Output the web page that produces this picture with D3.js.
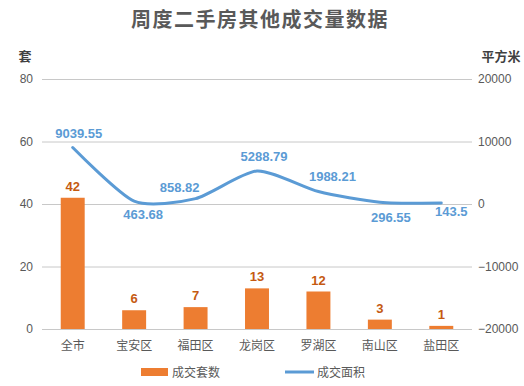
<!DOCTYPE html>
<html><head><meta charset="utf-8">
<script src="https://cdn.jsdelivr.net/npm/d3@7"></script>
<style>body{margin:0;background:#fff;}svg{display:block;font-family:"Noto Sans CJK SC","Microsoft YaHei",sans-serif;}</style>
</head><body>
<svg id="c" width="524" height="386"></svg>
<script>
const categories = ["全市","宝安区","福田区","龙岗区","罗湖区","南山区","盐田区"];
const countValues = [42,6,7,13,12,3,1];
const areaValues = [9039.55,463.68,858.82,5288.79,1988.21,296.55,143.5];
const leftTicks = [0,20,40,60,80];
const rightTicks = [-20000,-10000,0,10000,20000];
// label placement offsets (dx, dy) for area labels
const areaLabelOffsets = [[6,-14],[9,13],[-16,-11],[7,-14],[14,-15],[11,15],[10,8]];

const svg = d3.select("#c");
const m = {l:42, r:472, t:79, b:329};
const x = d3.scaleBand().domain(categories).range([m.l,m.r]).paddingInner(0.61).paddingOuter(0.305);
const xc = d => x(d) + x.bandwidth()/2;
const yL = d3.scaleLinear().domain([0,80]).range([m.b,m.t]);
const yR = d3.scaleLinear().domain([-20000,20000]).range([m.b,m.t]);

svg.append("text").attr("x",260).attr("y",27).attr("text-anchor","middle")
  .attr("font-size",20).attr("font-weight","bold").attr("fill","#595959").attr("letter-spacing",1.5)
  .text("周度二手房其他成交量数据");

// gridlines
svg.append("g").selectAll("line").data(leftTicks).join("line")
  .attr("x1",m.l).attr("x2",m.r).attr("y1",d=>yL(d)+0.5).attr("y2",d=>yL(d)+0.5)
  .attr("stroke","#c8c8c8").attr("stroke-width",1);

// left axis
const la = svg.append("g").attr("transform",`translate(${m.l},0)`)
  .call(d3.axisLeft(yL).tickValues(leftTicks).tickSize(0).tickPadding(9));
la.select(".domain").remove();
la.selectAll("text").attr("font-size",12).attr("fill","#595959").attr("font-family","Liberation Sans, Arial, sans-serif");

// right axis
const ra = svg.append("g").attr("transform",`translate(${m.r},0)`)
  .call(d3.axisRight(yR).tickValues(rightTicks).tickSize(0).tickPadding(6).tickFormat(d=>d<0?"\u2212"+Math.abs(d):d));
ra.select(".domain").remove();
ra.selectAll("text").attr("font-size",12).attr("fill","#595959").attr("font-family","Liberation Sans, Arial, sans-serif");

// axis titles
svg.append("text").attr("x",25).attr("y",61).attr("text-anchor","middle").attr("font-size",13).attr("font-weight","bold").attr("fill","#404040").text("套");
svg.append("text").attr("x",501).attr("y",61).attr("text-anchor","middle").attr("font-size",13).attr("font-weight","bold").attr("fill","#404040").text("平方米");

// bars
svg.append("g").selectAll("rect").data(categories).join("rect")
  .attr("x",d=>x(d)).attr("width",x.bandwidth())
  .attr("y",(d,i)=>yL(countValues[i])).attr("height",(d,i)=>yL(0)-yL(countValues[i]))
  .attr("fill","#ED7D31");

// bar labels
svg.append("g").selectAll("text").data(categories).join("text")
  .attr("x",d=>xc(d)).attr("y",(d,i)=>yL(countValues[i])-7)
  .attr("text-anchor","middle").attr("font-size",13).attr("font-weight","bold").attr("fill","#C55A11")
  .attr("font-family","Liberation Sans, Arial, sans-serif")
  .text((d,i)=>countValues[i]);

// line
const line = d3.line().x((d,i)=>xc(categories[i])).y(d=>yR(d)).curve(d3.curveCardinal.tension(0.3));
svg.append("path").datum(areaValues).attr("d",line).attr("fill","none")
  .attr("stroke","#5B9BD5").attr("stroke-width",3).attr("stroke-linecap","round");

// area labels
svg.append("g").selectAll("text").data(areaValues).join("text")
  .attr("x",(d,i)=>xc(categories[i])+areaLabelOffsets[i][0])
  .attr("y",(d,i)=>yR(d)+areaLabelOffsets[i][1]+4.5)
  .attr("text-anchor","middle").attr("font-size",13).attr("font-weight","bold").attr("fill","#5B9BD5")
  .attr("font-family","Liberation Sans, Arial, sans-serif")
  .text(d=>d);

// x labels
svg.append("g").selectAll("text").data(categories).join("text")
  .attr("x",d=>xc(d)).attr("y",349.5).attr("text-anchor","middle")
  .attr("font-size",12).attr("fill","#595959").text(d=>d);

// legend
const lg = svg.append("g");
lg.append("rect").attr("x",141).attr("y",368).attr("width",27).attr("height",8).attr("fill","#ED7D31");
lg.append("text").attr("x",172).attr("y",376.5).attr("font-size",12).attr("fill","#595959").text("成交套数");
lg.append("line").attr("x1",285).attr("x2",314).attr("y1",372).attr("y2",372).attr("stroke","#5B9BD5").attr("stroke-width",3);
lg.append("text").attr("x",317).attr("y",376.5).attr("font-size",12).attr("fill","#595959").text("成交面积");
</script>
</body></html>
